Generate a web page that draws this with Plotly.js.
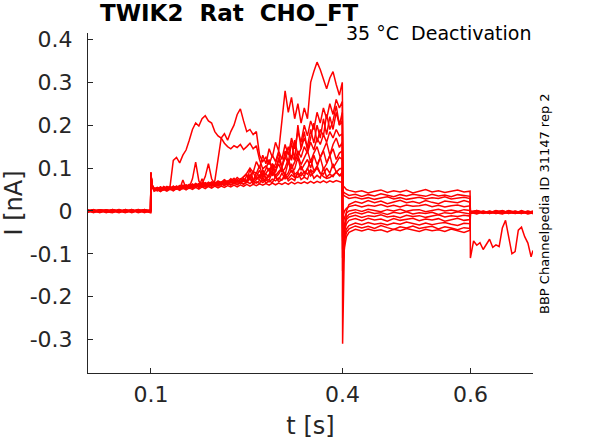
<!DOCTYPE html>
<html>
<head>
<meta charset="utf-8">
<script src="https://cdn.plot.ly/plotly-3.0.1.min.js"></script>
<style>html,body{margin:0;padding:0;background:#fff;}#plot{width:589px;height:442px;}</style>
</head>
<body>
<div id="plot"></div>
<script>
// time grids (s)
const tPre = [0.000,0.010,0.020,0.030,0.040,0.050,0.060,0.070,0.080,0.090,0.0995];
const tStep = [0.100,0.1015,0.105,0.110,0.115,0.120,0.125,0.130,0.135,0.140,
  0.145,0.150,0.155,0.160,0.165,0.170,0.175,0.180,0.185,0.190,
  0.195,0.200,0.205,0.210,0.215,0.220,0.225,0.230,0.235,0.240,
  0.245,0.250,0.255,0.260,0.265,0.270,0.275,0.280,0.285,0.290,
  0.295,0.300,0.305,0.310,0.315,0.320,0.325,0.330,0.335,0.340,
  0.345,0.350,0.355,0.360,0.365,0.370,0.375,0.380,0.385,0.390,0.395,0.3995];
const tTail = [0.400,0.401,0.403,0.406,0.410,0.420,0.430,0.440,0.450,0.460,0.470,0.480,
  0.490,0.500,0.510,0.520,0.530,0.540,0.550,0.560,0.570,0.580,0.590,0.5995];
const tPost = [0.600,0.610,0.620,0.630,0.640,0.650,0.660,0.670,0.680,0.690,0.698];
const tPostFine = [0.600,0.605,0.610,0.615,0.620,0.625,0.630,0.635,0.640,0.645,0.650,
  0.655,0.660,0.665,0.670,0.675,0.680,0.685,0.690,0.695,0.698];

// current (nA) per sweep: pre-pulse, step, tail, post
const pre1 = [0.002,-0.003,0.001,-0.002,0.003,-0.001,0.002,-0.004,0.001,-0.002,0.001];
const step1 = [0.088,0.060,0.052,0.055,0.050,0.056,0.053,0.058,0.118,0.125,
  0.112,0.130,0.142,0.165,0.190,0.205,0.198,0.215,0.222,0.210,
  0.205,0.185,0.175,0.170,0.158,0.150,0.145,0.152,0.148,0.155,
  0.143,0.150,0.158,0.145,0.152,0.120,0.098,0.105,0.092,0.110,
  0.100,0.118,0.105,0.125,0.112,0.130,0.118,0.140,0.125,0.150,
  0.135,0.160,0.142,0.170,0.155,0.178,0.160,0.185,0.170,0.190,0.175,0.180];
const tail1 = [-0.080,-0.100,-0.070,-0.050,-0.042,-0.035,-0.040,-0.036,-0.041,-0.034,-0.039,-0.043,
  -0.037,-0.040,-0.035,-0.041,-0.038,-0.036,-0.042,-0.037,-0.040,-0.044,-0.039,-0.041];
const post1 = [-0.005,-0.002,-0.006,-0.001,-0.004,-0.007,-0.002,-0.005,-0.001,-0.006,-0.003];

const pre2 = [-0.002,0.001,-0.004,0.002,-0.001,0.003,-0.003,0.001,-0.002,0.002,-0.001];
const step2 = [0.085,0.058,0.050,0.054,0.049,0.057,0.052,0.056,0.053,0.058,
  0.055,0.060,0.057,0.062,0.058,0.064,0.060,0.066,0.061,0.067,
  0.063,0.070,0.120,0.170,0.180,0.165,0.185,0.200,0.225,0.238,
  0.210,0.185,0.190,0.178,0.185,0.130,0.115,0.125,0.108,0.130,
  0.115,0.140,0.120,0.155,0.130,0.170,0.145,0.185,0.160,0.200,
  0.175,0.210,0.190,0.230,0.205,0.240,0.215,0.250,0.225,0.260,0.240,0.255];
const tail2 = [-0.310,-0.200,-0.060,0.000,0.015,0.022,0.018,0.024,0.019,0.023,0.017,0.021,
  0.025,0.019,0.022,0.018,0.024,0.020,0.017,0.023,0.021,0.019,0.024,0.020];
const post2 = [0.000,-0.004,-0.001,-0.005,0.001,-0.003,-0.006,0.000,-0.004,-0.002,-0.005];

const pre3 = [0.001,0.003,-0.002,0.000,-0.003,0.002,0.000,0.003,-0.003,0.001,0.002];
const step3 = [0.090,0.061,0.053,0.051,0.056,0.050,0.055,0.052,0.057,0.054,
  0.059,0.055,0.060,0.057,0.063,0.058,0.064,0.061,0.066,0.062,
  0.068,0.064,0.070,0.066,0.073,0.068,0.075,0.070,0.078,0.072,
  0.080,0.088,0.100,0.090,0.115,0.100,0.130,0.110,0.145,0.125,
  0.160,0.140,0.210,0.280,0.230,0.265,0.215,0.250,0.205,0.240,
  0.215,0.300,0.325,0.347,0.330,0.305,0.285,0.310,0.325,0.295,0.270,0.300];
const tail3 = [0.060,0.058,0.055,0.050,0.048,0.044,0.047,0.042,0.046,0.049,0.043,0.047,
  0.044,0.048,0.042,0.046,0.050,0.044,0.047,0.043,0.046,0.049,0.044,0.046];
const post3 = [-0.110,-0.070,-0.080,-0.074,-0.090,-0.078,-0.066,-0.085,-0.079,-0.083,-0.040,
  -0.022,-0.060,-0.100,-0.095,-0.045,-0.038,-0.060,-0.075,-0.107,-0.092];

const pre4 = [-0.003,0.000,0.002,-0.004,0.001,-0.002,0.003,-0.001,0.002,-0.003,0.000];
const step4 = [0.087,0.062,0.050,0.047,0.053,0.049,0.055,0.050,0.054,0.051,
  0.056,0.052,0.058,0.053,0.060,0.055,0.062,0.057,0.064,0.058,
  0.062,0.067,0.060,0.066,0.072,0.064,0.070,0.076,0.068,0.074,
  0.078,0.085,0.074,0.092,0.088,0.105,0.082,0.098,0.120,0.095,
  0.110,0.135,0.102,0.125,0.150,0.118,0.165,0.130,0.145,0.185,
  0.140,0.170,0.205,0.160,0.190,0.175,0.225,0.190,0.210,0.245,0.200,0.230];
const tail4 = [0.050,0.045,0.042,0.040,0.036,0.039,0.034,0.038,0.035,0.040,0.036,0.033,
  0.038,0.035,0.039,0.036,0.034,0.039,0.035,0.037,0.033,0.038,0.036,0.034];
const post4 = [-0.003,0.001,-0.004,-0.002,-0.006,0.000,-0.003,-0.005,0.001,-0.004,0.000];

const pre5 = [0.000,-0.002,0.003,0.001,-0.003,0.001,-0.002,0.002,0.000,0.003,-0.002];
const step5 = [0.086,0.059,0.048,0.052,0.047,0.054,0.049,0.053,0.048,0.055,
  0.050,0.057,0.052,0.059,0.054,0.061,0.056,0.075,0.058,0.064,
  0.059,0.066,0.061,0.068,0.063,0.070,0.065,0.072,0.067,0.075,
  0.069,0.082,0.075,0.070,0.090,0.078,0.095,0.085,0.080,0.110,
  0.090,0.125,0.100,0.140,0.112,0.160,0.120,0.200,0.145,0.170,
  0.150,0.190,0.158,0.200,0.170,0.215,0.178,0.220,0.190,0.230,0.200,0.210];
const tail5 = [-0.060,-0.050,-0.030,-0.015,-0.008,-0.003,-0.007,-0.002,-0.006,-0.004,-0.008,-0.003,
  -0.006,-0.002,-0.007,-0.004,-0.006,-0.003,-0.008,-0.004,-0.006,-0.002,-0.005,-0.007];
const post5 = [-0.002,-0.006,0.000,-0.004,-0.001,-0.005,0.001,-0.003,-0.006,-0.001,-0.004];

const pre6 = [0.003,-0.001,-0.003,0.002,0.000,-0.004,0.001,-0.002,0.003,-0.001,0.001];
const step6 = [0.089,0.060,0.051,0.049,0.055,0.050,0.056,0.051,0.057,0.052,
  0.058,0.053,0.060,0.055,0.075,0.114,0.070,0.057,0.062,0.058,
  0.064,0.060,0.066,0.061,0.068,0.063,0.070,0.065,0.072,0.067,
  0.074,0.069,0.085,0.071,0.080,0.095,0.078,0.087,0.100,0.082,
  0.093,0.110,0.090,0.100,0.122,0.098,0.115,0.130,0.108,0.125,
  0.140,0.115,0.135,0.150,0.125,0.142,0.160,0.130,0.155,0.170,0.148,0.160];
const tail6 = [0.040,0.038,0.035,0.032,0.029,0.032,0.028,0.031,0.027,0.030,0.033,0.028,
  0.031,0.027,0.030,0.032,0.028,0.031,0.029,0.033,0.028,0.030,0.032,0.029];
const post6 = [-0.004,0.000,-0.005,-0.002,-0.003,0.001,-0.006,-0.002,-0.004,0.000,-0.003];

const pre7 = [-0.001,0.002,0.000,-0.003,0.003,0.000,-0.001,0.003,-0.004,0.000,-0.003];
const step7 = [0.084,0.057,0.049,0.053,0.048,0.055,0.050,0.054,0.049,0.056,
  0.051,0.057,0.053,0.060,0.055,0.062,0.057,0.063,0.080,0.110,
  0.075,0.062,0.068,0.063,0.070,0.065,0.071,0.066,0.073,0.068,
  0.075,0.070,0.082,0.090,0.074,0.079,0.095,0.076,0.085,0.105,
  0.082,0.092,0.100,0.084,0.115,0.090,0.098,0.125,0.095,0.108,
  0.120,0.100,0.130,0.108,0.125,0.140,0.112,0.130,0.145,0.120,0.135,0.140];
const tail7 = [-0.090,-0.070,-0.045,-0.030,-0.022,-0.018,-0.023,-0.017,-0.021,-0.019,-0.024,-0.018,
  -0.022,-0.020,-0.017,-0.023,-0.019,-0.021,-0.018,-0.024,-0.020,-0.017,-0.022,-0.020];
const post7 = [-0.006,-0.002,-0.004,0.000,-0.005,-0.003,-0.001,-0.006,-0.002,-0.004,-0.001];

const pre8 = [0.002,-0.004,0.001,0.003,-0.002,0.002,-0.003,0.000,0.002,-0.004,0.002];
const step8 = [0.088,0.061,0.052,0.050,0.056,0.051,0.057,0.052,0.058,0.053,
  0.059,0.054,0.060,0.056,0.061,0.057,0.063,0.058,0.064,0.060,
  0.066,0.061,0.067,0.063,0.069,0.064,0.071,0.066,0.072,0.068,
  0.074,0.069,0.098,0.072,0.077,0.073,0.088,0.074,0.081,0.095,
  0.078,0.086,0.100,0.080,0.089,0.110,0.085,0.092,0.105,0.088,
  0.098,0.120,0.094,0.102,0.125,0.097,0.110,0.130,0.100,0.114,0.125,0.120];
const tail8 = [-0.020,-0.010,0.000,0.006,0.010,0.014,0.009,0.013,0.011,0.015,0.010,0.013,
  0.009,0.014,0.011,0.012,0.015,0.010,0.013,0.009,0.012,0.014,0.010,0.012];
const post8 = [-0.001,-0.005,-0.002,-0.006,-0.003,0.000,-0.004,-0.001,-0.005,-0.003,-0.006];

const pre9 = [-0.004,0.001,-0.001,0.000,0.002,-0.003,0.003,-0.002,-0.001,0.002,0.000];
const step9 = [0.085,0.058,0.050,0.048,0.054,0.050,0.055,0.050,0.056,0.051,
  0.057,0.052,0.058,0.054,0.060,0.055,0.061,0.056,0.062,0.058,
  0.063,0.059,0.065,0.060,0.066,0.062,0.068,0.063,0.069,0.065,
  0.070,0.066,0.078,0.067,0.073,0.085,0.070,0.076,0.072,0.090,
  0.078,0.073,0.088,0.075,0.082,0.095,0.080,0.078,0.090,0.080,
  0.100,0.082,0.090,0.105,0.088,0.086,0.100,0.088,0.110,0.090,0.098,0.100];
const tail9 = [-0.110,-0.090,-0.060,-0.042,-0.034,-0.028,-0.032,-0.027,-0.031,-0.029,-0.033,-0.028,
  -0.031,-0.026,-0.030,-0.033,-0.028,-0.032,-0.029,-0.027,-0.031,-0.034,-0.029,-0.030];
const post9 = [-0.003,-0.007,-0.002,-0.004,-0.001,-0.006,-0.003,-0.005,-0.002,-0.007,-0.004];

const pre10 = [0.001,0.000,0.003,-0.002,-0.004,0.003,-0.001,0.001,-0.002,0.000,-0.004];
const step10 = [0.090,0.060,0.049,0.051,0.047,0.053,0.048,0.054,0.050,0.055,
  0.051,0.072,0.053,0.058,0.054,0.059,0.055,0.060,0.056,0.061,
  0.057,0.062,0.058,0.063,0.059,0.064,0.060,0.065,0.061,0.066,
  0.062,0.067,0.075,0.063,0.068,0.064,0.078,0.065,0.070,0.066,
  0.080,0.068,0.073,0.085,0.070,0.076,0.071,0.090,0.073,0.079,
  0.074,0.095,0.076,0.083,0.077,0.100,0.079,0.086,0.080,0.092,0.082,0.090];
const tail10 = [-0.040,-0.030,-0.015,-0.005,0.000,0.003,-0.001,0.004,0.001,-0.002,0.003,0.000,
  0.004,-0.001,0.002,0.003,-0.002,0.001,0.004,0.000,0.002,-0.001,0.003,0.001];
const post10 = [-0.002,0.001,-0.003,-0.006,-0.001,-0.004,0.000,-0.005,-0.002,-0.003,-0.006];

const pre11 = [-0.002,0.003,-0.003,0.001,0.000,-0.002,0.002,-0.003,0.003,-0.001,0.003];
const step11 = [0.086,0.059,0.050,0.054,0.049,0.055,0.050,0.056,0.051,0.057,
  0.052,0.058,0.053,0.059,0.054,0.060,0.055,0.061,0.056,0.062,
  0.058,0.063,0.059,0.064,0.060,0.065,0.061,0.066,0.062,0.067,
  0.063,0.068,0.064,0.070,0.065,0.071,0.066,0.072,0.068,0.074,
  0.070,0.077,0.072,0.080,0.075,0.084,0.078,0.088,0.082,0.092,
  0.086,0.096,0.090,0.100,0.088,0.080,0.076,0.078,0.085,0.090,0.084,0.080];
const tail11 = [-0.070,-0.060,-0.035,-0.020,-0.014,-0.010,-0.015,-0.011,-0.013,-0.009,-0.014,-0.012,
  -0.016,-0.010,-0.013,-0.011,-0.015,-0.012,-0.009,-0.014,-0.011,-0.013,-0.010,-0.012];
const post11 = [-0.005,-0.001,-0.004,-0.002,-0.006,-0.003,-0.001,-0.004,-0.006,-0.002,-0.003];

const pre12 = [0.000,-0.001,0.002,-0.001,0.002,0.000,-0.004,0.002,0.000,0.003,-0.002];
const step12 = [0.087,0.058,0.046,0.049,0.045,0.050,0.046,0.051,0.047,0.052,
  0.048,0.053,0.049,0.054,0.050,0.055,0.051,0.056,0.052,0.057,
  0.053,0.058,0.054,0.058,0.055,0.059,0.056,0.060,0.056,0.061,
  0.057,0.062,0.058,0.062,0.059,0.063,0.060,0.064,0.060,0.065,
  0.061,0.065,0.062,0.066,0.062,0.067,0.063,0.067,0.064,0.068,
  0.064,0.069,0.065,0.069,0.066,0.070,0.066,0.070,0.067,0.071,0.068,0.066];
const tail12 = [-0.140,-0.120,-0.085,-0.060,-0.050,-0.043,-0.047,-0.042,-0.046,-0.044,-0.049,-0.043,
  -0.046,-0.041,-0.045,-0.048,-0.043,-0.046,-0.044,-0.048,-0.042,-0.046,-0.050,-0.045];
const post12 = [-0.004,-0.001,-0.005,-0.003,0.000,-0.004,-0.002,-0.006,-0.001,-0.004,-0.002];

const xTicks = [0.1, 0.4, 0.6];
const xTickText = ['0.1', '0.4', '0.6'];
const yTicks = [-0.3, -0.2, -0.1, 0, 0.1, 0.2, 0.3, 0.4];
const yTickText = ['-0.3', '-0.2', '-0.1', '0', '0.1', '0.2', '0.3', '0.4'];

const sweeps = [
  [pre1, step1, tail1, post1, tPost],
  [pre2, step2, tail2, post2, tPost],
  [pre4, step4, tail4, post4, tPost],
  [pre5, step5, tail5, post5, tPost],
  [pre6, step6, tail6, post6, tPost],
  [pre7, step7, tail7, post7, tPost],
  [pre8, step8, tail8, post8, tPost],
  [pre9, step9, tail9, post9, tPost],
  [pre10, step10, tail10, post10, tPost],
  [pre11, step11, tail11, post11, tPost],
  [pre12, step12, tail12, post12, tPost],
  [pre3, step3, tail3, post3, tPostFine]
];

const traces = sweeps.map(s => ({
  type: 'scatter', mode: 'lines',
  x: tPre.concat(tStep, tTail, s[4]),
  y: s[0].concat(s[1], s[2], s[3]),
  line: {color: '#ff0000', width: 1.5},
  hoverinfo: 'skip'
}));

const axisCommon = {
  ticks: 'inside', ticklen: 5, tickwidth: 1, tickcolor: '#262626',
  showline: true, linecolor: '#262626', linewidth: 1, mirror: false,
  showgrid: false, zeroline: false,
  tickfont: {family: 'DejaVu Sans', size: 22, color: '#262626'}
};

const layout = {
  width: 589, height: 442,
  margin: {l: 88, r: 56, t: 33, b: 69, pad: 0},
  paper_bgcolor: '#ffffff', plot_bgcolor: '#ffffff',
  showlegend: false,
  font: {family: 'DejaVu Sans', color: '#262626'},
  xaxis: Object.assign({}, axisCommon, {
    range: [0.0015, 0.698], tickmode: 'array', tickvals: xTicks, ticktext: xTickText,
    ticklabelstandoff: 2,
    title: {text: 't [s]', font: {family: 'DejaVu Sans', size: 24, color: '#262626'}, standoff: 10}
  }),
  yaxis: Object.assign({}, axisCommon, {
    range: [-0.378, 0.415], tickmode: 'array', tickvals: yTicks, ticktext: yTickText,
    ticklabelstandoff: 10,
    title: {text: 'I [nA]', font: {family: 'DejaVu Sans', size: 24, color: '#262626'}, standoff: 2}
  }),
  annotations: [
    {text: '<b>TWIK2\u00a0\u00a0Rat\u00a0\u00a0CHO_FT</b>', xref: 'paper', yref: 'paper',
     x: 0.318, y: 1.06, xanchor: 'center', yanchor: 'middle', showarrow: false,
     font: {family: 'DejaVu Sans', size: 23, color: '#000000'}},
    {text: '35 °C\u00a0\u00a0Deactivation', xref: 'paper', yref: 'paper',
     x: 1.0, y: 1.0, xanchor: 'right', yanchor: 'middle', showarrow: false,
     font: {family: 'DejaVu Sans', size: 19, color: '#000000'}},
    {text: 'BBP Channelpedia ID 31147 rep 2', xref: 'paper', yref: 'paper',
     x: 1.0247, y: 0.5, xanchor: 'center', yanchor: 'middle', showarrow: false, textangle: -90,
     font: {family: 'DejaVu Sans', size: 13, color: '#000000'}}
  ]
};

Plotly.newPlot('plot', traces, layout, {staticPlot: true, displayModeBar: false});
</script>
</body>
</html>
